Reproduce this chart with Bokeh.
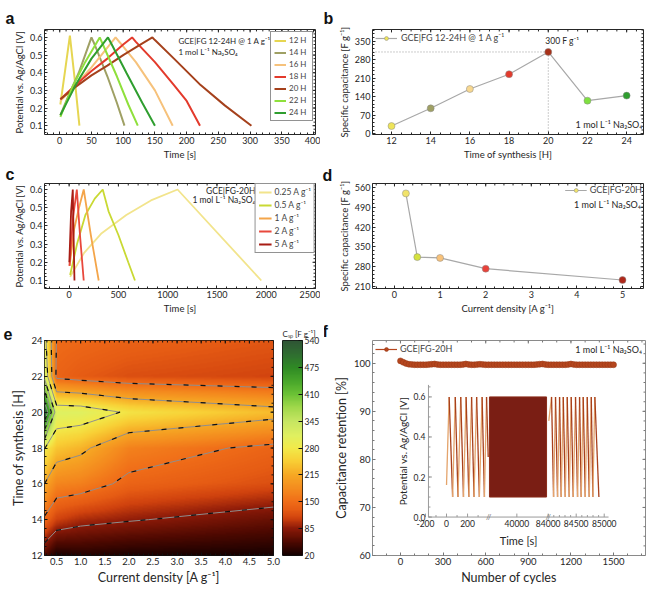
import math
import numpy as np
from bokeh.plotting import figure
from bokeh.layouts import column, row
from bokeh.models import (Range1d, SingleIntervalTicker, FixedTicker, Legend, LegendItem, Label,
                          LinearColorMapper, PrintfTickFormatter)
from bokeh.core.properties import value
from bokeh.embed import file_html
from bokeh.resources import INLINE

FONT = "Lato"
INK = "#262626"

# ---------------- panel a : GCD curves for synthesis times ----------------
a_series = ["12 H", "14 H", "16 H", "18 H", "20 H", "22 H", "24 H"]
a_colors = ["#e6d652", "#9fa064", "#f6c27c", "#e33a2c", "#a5411c", "#8fe03c", "#2f9e2f"]
a_t_12 = [1, 8, 16, 24, 31]
a_v_12 = [0.22, 0.40, 0.61, 0.35, 0.10]
a_t_14 = [1, 15, 30, 40, 50, 55, 75, 90, 102]
a_v_14 = [0.16, 0.28, 0.40, 0.50, 0.60, 0.56, 0.38, 0.23, 0.10]
a_t_16 = [1, 25, 50, 70, 88, 95, 120, 150, 178]
a_v_16 = [0.24, 0.33, 0.43, 0.52, 0.60, 0.57, 0.46, 0.30, 0.10]
a_t_18 = [1, 25, 50, 75, 100, 114, 120, 150, 180, 200, 221]
a_v_18 = [0.25, 0.33, 0.41, 0.48, 0.56, 0.60, 0.575, 0.46, 0.33, 0.24, 0.10]
a_t_20 = [1, 25, 50, 75, 100, 125, 146, 150, 180, 222, 260, 302]
a_v_20 = [0.25, 0.32, 0.385, 0.44, 0.50, 0.555, 0.60, 0.585, 0.48, 0.33, 0.215, 0.10]
a_t_22 = [1, 20, 40, 63, 68, 90, 108, 123]
a_v_22 = [0.15, 0.32, 0.46, 0.60, 0.56, 0.38, 0.22, 0.10]
a_t_24 = [1, 25, 50, 76, 82, 105, 130, 150]
a_v_24 = [0.16, 0.33, 0.48, 0.60, 0.56, 0.40, 0.23, 0.10]
a_times = [a_t_12, a_t_14, a_t_16, a_t_18, a_t_20, a_t_22, a_t_24]
a_volts = [a_v_12, a_v_14, a_v_16, a_v_18, a_v_20, a_v_22, a_v_24]

# ---------------- panel b : capacitance vs synthesis time ----------------
b_synth_time = [12, 14, 16, 18, 20, 22, 24]
b_capacitance = [29, 96, 169, 225, 309, 125, 144]
b_colors = ["#eee45a", "#9fa064", "#f8d890", "#e33a2c", "#a83018", "#7fe040", "#2f9e2f"]

# ---------------- panel c : GCD curves for current densities ----------------
c_series = ["0.25 A g\u207b\u00b9", "0.5 A g\u207b\u00b9", "1 A g\u207b\u00b9", "2 A g\u207b\u00b9", "5 A g\u207b\u00b9"]
c_colors = ["#f2e48c", "#c9d934", "#f4a54a", "#e8483c", "#a81c14"]
c_t_025 = [10, 150, 330, 580, 830, 1100, 1950]
c_v_025 = [0.12, 0.25, 0.36, 0.46, 0.54, 0.60, 0.10]
c_t_05 = [10, 80, 165, 260, 341, 400, 500, 600, 668]
c_v_05 = [0.13, 0.30, 0.46, 0.55, 0.60, 0.48, 0.35, 0.20, 0.10]
c_t_1 = [5, 50, 100, 148, 220, 300]
c_v_1 = [0.18, 0.38, 0.50, 0.60, 0.35, 0.10]
c_t_2 = [3, 40, 78, 110, 148]
c_v_2 = [0.18, 0.45, 0.60, 0.35, 0.10]
c_t_5 = [2, 20, 37, 45, 54]
c_v_5 = [0.20, 0.48, 0.60, 0.35, 0.10]
c_times = [c_t_025, c_t_05, c_t_1, c_t_2, c_t_5]
c_volts = [c_v_025, c_v_05, c_v_1, c_v_2, c_v_5]

# ---------------- panel d : capacitance vs current density ----------------
d_current = [0.25, 0.5, 1, 2, 5]
d_capacitance = [539, 314, 311, 273, 233]
d_colors = ["#f1e36a", "#d5e23e", "#f8c27a", "#e8423a", "#b0281a"]

# ---------------- panel e : map of capacitance ----------------
e_current = [0.25, 0.5, 1, 2, 5]
e_synth_time = [12, 14, 16, 18, 20, 22, 24]
e_cap_12h = [54, 24, 30, 25, 22]
e_cap_14h = [143, 111, 97, 88, 66]
e_cap_16h = [215, 176, 170, 140, 120]
e_cap_18h = [282, 241, 226, 172, 140]
e_cap_20h = [535, 314, 311, 273, 233]
e_cap_22h = [330, 140, 130, 120, 112]
e_cap_24h = [300, 148, 145, 138, 126]
cbar_ticks = [20, 85, 150, 215, 280, 345, 410, 475, 540]
contour_levels = [85, 150, 215, 280, 345, 410, 475]
cmap_stop_vals = [20, 50, 85, 110, 130, 150, 180, 215, 250, 280, 310, 345, 380, 410, 440, 475, 505, 540]
cmap_stop_cols = ["#140000", "#4a0800", "#8c1a08", "#d0420e", "#e65c14", "#f06c18", "#f48a1e",
                  "#f6a824", "#f8d036", "#f2ea4a", "#e0f060", "#c6e662", "#9fd84a", "#6cc236",
                  "#4aa82b", "#2f8a24", "#2f6f30", "#2f5535"]

# ---------------- panel f : cycling stability ----------------
f_cycles = [0, 20, 40, 60, 80, 100, 120, 140, 160, 180, 200, 220, 240, 260, 280, 300, 320, 340,
            360, 380, 400, 420, 440, 460, 480, 500, 520, 540, 560, 580, 600, 620, 640, 660, 680,
            700, 720, 740, 760, 780, 800, 820, 840, 860, 880, 900, 920, 940, 960, 980, 1000, 1020,
            1040, 1060, 1080, 1100, 1120, 1140, 1160, 1180, 1200, 1220, 1240, 1260, 1280, 1300,
            1320, 1340, 1360, 1380, 1400, 1420, 1440, 1460, 1480, 1500]
f_retention = [100.5, 100.2, 99.95, 99.8, 99.75, 99.7, 99.7, 99.7, 99.7, 99.7, 99.75, 99.8, 99.85,
               99.75, 99.7, 99.7, 99.7, 99.7, 99.7, 99.7, 99.7, 99.7, 99.75, 99.85, 99.75, 99.7,
               99.7, 99.75, 99.8, 99.75, 99.7, 99.7, 99.7, 99.7, 99.7, 99.7, 99.7, 99.7, 99.7, 99.7,
               99.7, 99.7, 99.7, 99.7, 99.7, 99.7, 99.7, 99.7, 99.75, 99.8, 99.85, 99.75, 99.7,
               99.7, 99.7, 99.7, 99.7, 99.7, 99.7, 99.75, 99.85, 99.75, 99.7, 99.7, 99.7, 99.7,
               99.7, 99.7, 99.7, 99.7, 99.7, 99.7, 99.7, 99.7, 99.7, 99.7]

# ---------------- inset : potential vs time (broken time axis) ----------------
in_t_first = [0, 25, 58, 83, 109, 135, 161, 186, 212, 238, 261, 286, 312, 338, 360, 380, 396]
in_v_first = [0.16, 0.6, 0.1, 0.6, 0.1, 0.6, 0.1, 0.6, 0.1, 0.6, 0.1, 0.6, 0.1, 0.6, 0.1, 0.6, 0.3]
in_t_last = [84011, 84060, 84096, 84131, 84167, 84203, 84233, 84269, 84305, 84340, 84376, 84411,
             84447, 84488, 84524, 84560, 84590, 84625, 84662, 84697, 84733, 84769, 84797, 84833, 84905]
in_v_last = [0.48, 0.6, 0.1, 0.6, 0.1, 0.6, 0.1, 0.6, 0.1, 0.6, 0.1, 0.6, 0.1, 0.6, 0.1, 0.6, 0.1,
             0.6, 0.1, 0.6, 0.1, 0.6, 0.1, 0.6, 0.1]
in_block_t = [1560, 81700]
in_block_v = [0.1, 0.6]
in_break_t = [-200, 400, 84000, 85100]
in_break_u = [-200, 410, 985, 1580]
in_tick_t = [-200, 0, 200, 40000, 84000, 84500, 85000]
in_tick_labels = ["-200", "0", "200", "40000", "84000", "84500", "85000"]
in_minor_t = [-100, 100, 300, 84100, 84200, 84300, 84400, 84600, 84700, 84800, 84900]
in_y_ticks = [0.0, 0.2, 0.4, 0.6]
in_y_labels = ["0.0", "0.2", "0.4", "0.6"]

# ---------------- layout constants ----------------
SUP = "\u207b\u00b9"
NA = "1 mol L" + SUP + " Na\u2082SO\u2084"
F_XR, F_YR = (-197, 1725), (60, 104.74)
F_FW, F_FH = 273, 217
IN_BOX_X, IN_BOX_Y = (197.0, 1465.0), (68.0, 95.5)   # inset frame, in panel-f data units
IN_UR, IN_VR = (-171, 1568), (0, 0.66)


def tmap(t):
    return np.interp(np.asarray(t, dtype=float), in_break_t, in_break_u)


def hex2rgb(h):
    return [int(h[i:i + 2], 16) for i in (1, 3, 5)]


STOP_RGB = np.array([hex2rgb(c) for c in cmap_stop_cols], dtype=float)


def cmap(v):
    rgb = [np.interp(v, cmap_stop_vals, STOP_RGB[:, k]) for k in range(3)]
    return "#%02x%02x%02x" % tuple(int(round(x)) for x in rgb)


def ticks_in(lo, hi, step):
    k0 = math.ceil(lo / step - 1e-9)
    k1 = math.floor(hi / step + 1e-9)
    return [k * step for k in range(k0, k1 + 1)]


def make_fig(w, h, mb, xr, yr, outline=INK, title=None, title_off=0, title_standoff=0):
    p = figure(width=w, height=h, x_range=Range1d(*xr), y_range=Range1d(*yr),
               output_backend="svg", toolbar_location=None,
               min_border_left=mb[0], min_border_right=mb[1], min_border_top=mb[2],
               min_border_bottom=mb[3])
    p.xgrid.visible = False
    p.ygrid.visible = False
    p.outline_line_color = outline
    p.outline_line_width = 1
    p.background_fill_color = "white"
    if title:
        p.title.text = title
        p.title.align = "left"
        p.title.offset = title_off
        p.title.standoff = title_standoff
        p.title.text_font = "Liberation Sans"
        p.title.text_font_style = "bold"
        p.title.text_font_size = "16px"
        p.title.text_color = "#111"
    return p


def style_axes(p, fw, fh, xint, xminor, yint, yminor, xlabel, ylabel, tfs, lfs, color=INK,
               xfmt=None, yfmt=None):
    p.xaxis.ticker = SingleIntervalTicker(interval=xint, num_minor_ticks=xminor)
    p.yaxis.ticker = SingleIntervalTicker(interval=yint, num_minor_ticks=yminor)
    if xfmt is not None:
        p.xaxis.formatter = xfmt
    if yfmt is not None:
        p.yaxis.formatter = yfmt
    for ax in (p.xaxis[0], p.yaxis[0]):
        ax.axis_line_color = None
        ax.major_tick_in = 3
        ax.major_tick_out = 0
        ax.minor_tick_in = 2
        ax.minor_tick_out = 0
        ax.major_tick_line_color = color
        ax.minor_tick_line_color = color
        ax.major_label_text_font = FONT
        ax.major_label_text_font_size = tfs
        ax.major_label_text_color = INK
        ax.axis_label_text_font = FONT
        ax.axis_label_text_font_size = lfs
        ax.axis_label_text_font_style = "normal"
        ax.axis_label_text_color = INK
        ax.major_label_standoff = 2
        ax.axis_label_standoff = 2
    p.xaxis.axis_label = xlabel
    p.yaxis.axis_label = ylabel
    # mirrored inward ticks on the top and right edges of the frame
    x0, x1 = p.x_range.start, p.x_range.end
    y0, y1 = p.y_range.start, p.y_range.end
    dx, dy = (x1 - x0) / fw, (y1 - y0) / fh
    for step, ln in ((xint / xminor, 2), (xint, 3)):
        xs = ticks_in(x0, x1, step)
        p.segment(x0=xs, y0=[y1] * len(xs), x1=xs, y1=[y1 - ln * dy] * len(xs), line_color=color,
                  line_width=1)
    for step, ln in ((yint / yminor, 2), (yint, 3)):
        ys = ticks_in(y0, y1, step)
        p.segment(x0=[x1] * len(ys), y0=ys, x1=[x1 - ln * dx] * len(ys), y1=ys, line_color=color,
                  line_width=1)


def note(p, x, y, txt, align="left", size="8px"):
    p.add_layout(Label(x=x, y=y, text=txt, text_font=FONT, text_font_size=size,
                       text_color=INK, text_align=align, text_baseline="middle"))


# ======================= panel a =======================
pa = make_fig(320, 162, (44, 5, 29, 25), (-24, 403), (0.05, 0.645), title="a", title_off=-39,
              title_standoff=6)
style_axes(pa, 271, 108, 50, 5, 0.1, 5, "Time [s]", "Potential vs. Ag/AgCl [V]", "9px", "9.5px")
items = []
for name, col, ts, vs in zip(a_series, a_colors, a_times, a_volts):
    r = pa.line(ts, vs, line_color=col, line_width=2)
    items.append(LegendItem(label=name, renderers=[r]))
pa.add_layout(Legend(items=items, location="top_right", border_line_color=INK,
                     background_fill_alpha=1, label_text_font=FONT, label_text_font_size="8px",
                     glyph_width=12, glyph_height=9, label_height=9, spacing=2, padding=3,
                     margin=2, label_standoff=3))
note(pa, 187, 0.578, "GCE|FG 12-24H @ 1 A g" + SUP)
note(pa, 187, 0.518, NA)

# ======================= panel b =======================
pb = make_fig(329, 162, (52, 6, 29, 25), (11.03, 24.86), (-3, 394), title="b", title_off=-49,
              title_standoff=6)
style_axes(pb, 271, 108, 2, 4, 70, 5, "Time of synthesis [H]",
           "Specific capacitance [F g" + SUP + "]", "9px", "9.5px")
imax = int(np.argmax(b_capacitance))
pb.line([pb.x_range.start, b_synth_time[imax]], [b_capacitance[imax]] * 2,
        line_color="#9a9a9a", line_dash="1 2", line_width=1)
pb.line([b_synth_time[imax]] * 2, [pb.y_range.start, b_capacitance[imax]],
        line_color="#9a9a9a", line_dash="1 2", line_width=1)
rbl = pb.line(b_synth_time, b_capacitance, line_color="#a8a8a8", line_width=1.2)
rbs = pb.scatter(b_synth_time, b_capacitance, size=7, fill_color=b_colors, line_color="#8a8a8a",
                 line_width=0.5)
pb.add_layout(Legend(items=[LegendItem(label="GCE|FG 12-24H @ 1 A g" + SUP, renderers=[rbl, rbs],
                                       index=0)],
                     location="top_left", border_line_color=None, background_fill_alpha=0,
                     label_text_font=FONT, label_text_font_size="9px", glyph_width=22,
                     glyph_height=10, label_height=10, padding=2, margin=3, label_standoff=4))
pb.add_layout(Label(x=b_synth_time[imax], y=b_capacitance[imax], x_offset=-3, y_offset=6,
                    text="300 F g" + SUP, text_font=FONT, text_font_size="8.5px",
                    text_color=INK, text_baseline="bottom"))
note(pb, 24.8, 33, NA, align="right", size="9px")

# ======================= panel c =======================
pc = make_fig(320, 156, (44, 5, 21, 30), (-250, 2500), (0.056, 0.633), title="c", title_off=-39,
              title_standoff=2)
style_axes(pc, 271, 105, 500, 5, 0.1, 5, "Time [s]", "Potential vs. Ag/AgCl [V]", "9px", "9.5px")
items = []
for name, col, ts, vs in zip(c_series, c_colors, c_times, c_volts):
    r = pc.line(ts, vs, line_color=col, line_width=1.8)
    items.append(LegendItem(label=name, renderers=[r]))
pc.add_layout(Legend(items=items, location="top_right", border_line_color=INK,
                     background_fill_alpha=1, label_text_font=FONT, label_text_font_size="8.5px",
                     glyph_width=13, glyph_height=10, label_height=10, spacing=3, padding=3,
                     margin=0, label_standoff=3))
note(pc, 1890, 0.590, "GCE|FG-20H", align="right", size="8.5px")
note(pc, 1890, 0.540, NA, align="right", size="8.5px")

# ======================= panel d =======================
pd_ = make_fig(329, 156, (52, 6, 19, 30), (-0.482, 5.46), (203, 574), title="d", title_off=-50)
style_axes(pd_, 271, 107, 1, 5, 70, 5, "Current density [A g" + SUP + "]",
           "Specific capacitance [F g" + SUP + "]", "9px", "9.5px")
rdl = pd_.line(d_current, d_capacitance, line_color="#a8a8a8", line_width=1.2)
rds = pd_.scatter(d_current, d_capacitance, size=7, fill_color=d_colors, line_color="#8a8a8a",
                  line_width=0.5)
pd_.add_layout(Legend(items=[LegendItem(label="GCE|FG-20H", renderers=[rdl, rds], index=0)],
                      location="top_right", border_line_color=None, background_fill_alpha=0,
                      label_text_font=FONT, label_text_font_size="9px", glyph_width=22,
                      glyph_height=10, label_height=10, padding=0, margin=1, label_standoff=3))
note(pd_, 5.4, 500, NA, align="right", size="9px")

# ======================= panel e =======================
palette = [cmap(v) for v in np.linspace(cbar_ticks[0], cbar_ticks[-1], 256)]
mapper = LinearColorMapper(palette=palette, low=cbar_ticks[0], high=cbar_ticks[-1])
pe = make_fig(282, 277, (44, 9, 21, 40), (e_current[0], e_current[-1]),
              (e_synth_time[0], e_synth_time[-1]), outline="#111", title="e", title_off=-41,
              title_standoff=2)
Z = np.array([e_cap_12h, e_cap_14h, e_cap_16h, e_cap_18h, e_cap_20h, e_cap_22h, e_cap_24h], dtype=float)
# piecewise-linear shading of the measured grid (display only)
gx = np.linspace(e_current[0], e_current[-1], 460)
gy = np.linspace(e_synth_time[0], e_synth_time[-1], 460)
Zx = np.array([np.interp(gx, e_current, r) for r in Z])
Zimg = np.array([np.interp(gy, e_synth_time, Zx[:, j]) for j in range(len(gx))]).T
pe.image(image=[Zimg], x=e_current[0], y=e_synth_time[0], dw=e_current[-1] - e_current[0],
         dh=e_synth_time[-1] - e_synth_time[0], color_mapper=mapper)
X, Y = np.meshgrid(np.array(e_current, dtype=float), np.array(e_synth_time, dtype=float))
pe.contour(X, Y, Z, levels=contour_levels, line_color="#8e8e8e", line_width=1)
pe.contour(X, Y, Z, levels=contour_levels, line_color="#111111", line_width=1.2, line_dash="5 12")
style_axes(pe, 229, 216, 0.5, 5, 2, 4, "Current density [A g" + SUP + "]", "Time of synthesis [H]",
           "9.5px", "12.5px", color="#111", xfmt=PrintfTickFormatter(format="%.1f"))

# colour scale as its own narrow panel
pcb = figure(width=42, height=277, x_range=Range1d(0, 1),
             y_range=Range1d(cbar_ticks[0], cbar_ticks[-1]), y_axis_location="right",
             output_backend="svg", toolbar_location=None, min_border_left=0, min_border_right=22,
             min_border_top=21, min_border_bottom=40)
pcb.xaxis.visible = False
pcb.xgrid.visible = False
pcb.ygrid.visible = False
pcb.outline_line_color = "#111"
grad = np.linspace(cbar_ticks[0], cbar_ticks[-1], 256).reshape(-1, 1)
pcb.image(image=[grad], x=0, y=cbar_ticks[0], dw=1, dh=cbar_ticks[-1] - cbar_ticks[0],
          color_mapper=mapper)
pcb.yaxis.ticker = FixedTicker(ticks=cbar_ticks)
ya = pcb.yaxis[0]
ya.axis_line_color = None
ya.major_tick_in = 4
ya.major_tick_out = 0
ya.minor_tick_line_color = None
ya.major_tick_line_color = "#111"
ya.major_label_text_font = FONT
ya.major_label_text_font_size = "8.5px"
ya.major_label_text_color = INK
ya.major_label_standoff = 2
pcb.title.text = "C\u209b\u209a [F g" + SUP + "]"
pcb.title.align = "left"
pcb.title.standoff = 3
pcb.title.text_font = FONT
pcb.title.text_font_style = "normal"
pcb.title.text_font_size = "8px"
pcb.title.text_color = INK

# ======================= panel f =======================
pf = make_fig(325, 277, (48, 4, 22, 38), F_XR, F_YR, outline="#8a8a8a", title="f", title_off=-50,
              title_standoff=2)
style_axes(pf, F_FW, F_FH, 300, 3, 10, 5, "Number of cycles", "Capacitance retention [%]",
           "9.5px", "12.5px", color="#777")
rfl = pf.line(f_cycles, f_retention, line_color="#b5461e", line_width=1.2)
rfs = pf.scatter(f_cycles, f_retention, size=6, fill_color="#b5461e", line_color="#963816",
                 line_width=0.5)
pf.add_layout(Legend(items=[LegendItem(label="GCE|FG-20H", renderers=[rfl, rfs], index=0)],
                     location="top_left", border_line_color=None, background_fill_alpha=0,
                     label_text_font=FONT, label_text_font_size="9px", glyph_width=22,
                     glyph_height=10, label_height=10, padding=2, margin=3, label_standoff=3))
note(pf, 1700, 102.9, NA, align="right", size="9px")


# ---- inset drawn inside panel f, through a linear map of its own axes ----
def ix(u):
    u = np.asarray(u, dtype=float)
    return IN_BOX_X[0] + (u - IN_UR[0]) / (IN_UR[1] - IN_UR[0]) * (IN_BOX_X[1] - IN_BOX_X[0])


def iy(v):
    v = np.asarray(v, dtype=float)
    return IN_BOX_Y[0] + (v - IN_VR[0]) / (IN_VR[1] - IN_VR[0]) * (IN_BOX_Y[1] - IN_BOX_Y[0])


PXX = (F_XR[1] - F_XR[0]) / F_FW
PXY = (F_YR[1] - F_YR[0]) / F_FH
AX = "#9a9a9a"
X0, Y0 = IN_BOX_X[0], IN_BOX_Y[0]
pf.quad(left=list(ix(tmap([in_block_t[0]]))), right=list(ix(tmap([in_block_t[1]]))),
        bottom=list(iy([in_block_v[0]])), top=list(iy([in_block_v[1]])),
        fill_color="#7a1e14", line_color="#8a2a18")
for ts, vs in ((in_t_first, in_v_first), (in_t_last, in_v_last)):
    xs = ix(tmap(ts))
    ys = iy(vs)
    v = np.asarray(vs, dtype=float)
    cols = ["#e4a46c" if r else "#a8401c" for r in (v[1:] > v[:-1])]
    pf.segment(x0=xs[:-1], y0=ys[:-1], x1=xs[1:], y1=ys[1:], line_color=cols, line_width=1.3)
# inset axes
pf.segment(x0=[X0, X0], y0=[Y0, Y0], x1=[X0, IN_BOX_X[1]], y1=[IN_BOX_Y[1], Y0],
           line_color=AX, line_width=1)
yt = ticks_in(IN_VR[0], IN_VR[1], 0.05)
pf.segment(x0=[X0] * len(yt), y0=list(iy(yt)), x1=[X0 + 2 * PXX] * len(yt), y1=list(iy(yt)),
           line_color=AX)
pf.segment(x0=[X0] * len(in_y_ticks), y0=list(iy(in_y_ticks)), x1=[X0 + 3.5 * PXX] * len(in_y_ticks),
           y1=list(iy(in_y_ticks)), line_color=AX)
xm = list(ix(tmap(in_minor_t)))
pf.segment(x0=xm, y0=[Y0] * len(xm), x1=xm, y1=[Y0 + 2 * PXY] * len(xm), line_color=AX)
xM = list(ix(tmap(in_tick_t)))
pf.segment(x0=xM, y0=[Y0] * len(xM), x1=xM, y1=[Y0 + 3.5 * PXY] * len(xM), line_color=AX)
pf.text(x=xM, y=[Y0] * len(xM), text=in_tick_labels, y_offset=3, text_font=value(FONT),
        text_font_size="8.5px", text_color=INK, text_align="center", text_baseline="top")
pf.text(x=[X0] * len(in_y_ticks), y=list(iy(in_y_ticks)), text=in_y_labels, x_offset=-3,
        text_font=value(FONT), text_font_size="8.5px", text_color=INK, text_align="right",
        text_baseline="middle")
pf.text(x=list(ix(tmap(in_break_t[1:3]))), y=[Y0, Y0], text=["//", "//"], text_font=value(FONT),
        text_font_size="8px", text_color="#777", text_align="center", text_baseline="middle")
pf.text(x=[0.5 * (IN_BOX_X[0] + IN_BOX_X[1])], y=[Y0], text=["Time [s]"], y_offset=17,
        text_font=value(FONT), text_font_size="11px", text_color=INK, text_align="center",
        text_baseline="top")
pf.text(x=[X0], y=[0.5 * (IN_BOX_Y[0] + IN_BOX_Y[1])], text=["Potential vs. Ag/AgCl [V]"],
        x_offset=-19, angle=math.pi / 2, text_font=value(FONT), text_font_size="10px",
        text_color=INK, text_align="center", text_baseline="bottom")

layout = column(row(pa, pb), row(pc, pd_), row(pe, pcb, pf))
open("out.html", "w").write(file_html(layout, INLINE))
